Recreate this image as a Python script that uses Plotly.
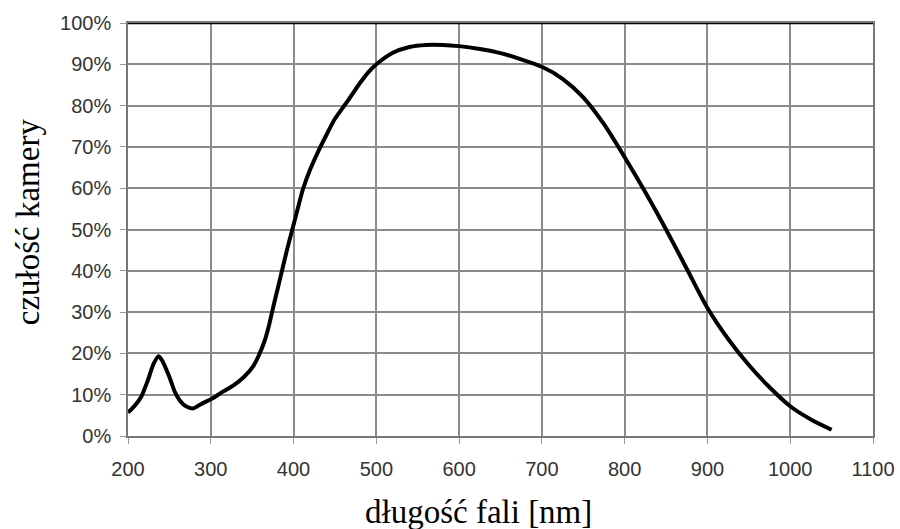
import plotly.graph_objects as go

wavelength_nm = [200, 208, 216, 224, 231, 237, 242, 250, 257, 263, 270, 279, 288, 303, 315, 327, 340,
                 351, 358, 365, 370, 374, 380, 386, 392, 398.5, 405, 411, 420, 430, 440, 450, 465, 480, 490,
                 500, 520, 540, 560, 580, 600, 625, 650, 675, 700, 725, 750, 775, 800, 825, 850, 875,
                 900, 925, 950, 975, 1000, 1025, 1050]
sensitivity_pct = [5.7, 7.3, 9.5, 13.5, 17.5, 19.3, 18.0, 14.3, 10.5, 8.5, 7.2, 6.7, 7.7, 9.2, 10.8, 12.2, 14.3,
                   16.8, 19.5, 23.0, 26.5, 30.0, 35.0, 40.0, 45.0, 50.0, 55.0, 59.5, 64.5, 69.0, 73.0, 76.8, 81.0, 85.4, 88.0,
                   90.0, 92.8, 94.2, 94.7, 94.7, 94.4, 93.7, 92.7, 91.2, 89.4, 86.5, 82.0, 75.5, 67.5, 59.0, 50.0, 40.5,
                   31.0, 23.5, 17.2, 11.8, 7.2, 4.0, 1.5]

x_ticks = [200, 300, 400, 500, 600, 700, 800, 900, 1000, 1100]
y_ticks = [0, 10, 20, 30, 40, 50, 60, 70, 80, 90, 100]
y_tick_labels = [f"{v}%" for v in y_ticks]

x_title = "długość fali [nm]"
y_title = "czułość kamery"

fig = go.Figure()
fig.add_trace(go.Scatter(x=wavelength_nm, y=sensitivity_pct, mode="lines",
                         line=dict(color="black", width=4, shape="spline", smoothing=0.7),
                         showlegend=False, hoverinfo="skip", cliponaxis=False))

tickfont = dict(family="Liberation Sans, Arial, sans-serif", size=20, color="#333333")
title_font = dict(family="Liberation Serif, Times New Roman, serif", size=33, color="black")
fig.update_layout(
    width=900, height=529,
    margin=dict(l=128, r=27, t=23, b=93),
    paper_bgcolor="white", plot_bgcolor="white",
    xaxis=dict(range=[200, 1100], tickvals=x_ticks, ticktext=[str(v) for v in x_ticks],
               showgrid=True, gridcolor="#8a8a8a", gridwidth=1.5,
               showline=True, linecolor="#777777", linewidth=1.5, mirror=True,
               ticks="outside", ticklen=6, tickcolor="#999999", tickfont=tickfont,
               ticklabelstandoff=8, automargin=False,
               zeroline=False, fixedrange=True),
    yaxis=dict(range=[0, 100], tickvals=y_ticks, ticktext=y_tick_labels,
               showgrid=True, gridcolor="#8a8a8a", gridwidth=1.5,
               showline=True, linecolor="#777777", linewidth=1.5, mirror=True,
               ticks="outside", ticklen=6, tickcolor="#999999", tickfont=tickfont,
               ticklabelstandoff=5, automargin=False,
               zeroline=False, fixedrange=True),
    shapes=[dict(type="line", xref="paper", yref="y", x0=0, x1=1, y0=100, y1=100,
                 line=dict(color="black", width=2.5))],
    annotations=[
        dict(text=x_title, xref="paper", yref="paper", x=0.4698, y=-0.184,
             xanchor="center", yanchor="middle", showarrow=False, font=title_font),
        dict(text=y_title, xref="paper", yref="paper", x=-0.134, y=0.518,
             xanchor="center", yanchor="middle", showarrow=False, textangle=-90, font=title_font),
    ],
)

fig.write_html("out.html", config={"displayModeBar": False},
               post_script="document.body.style.margin='0';document.body.style.overflow='hidden';")
